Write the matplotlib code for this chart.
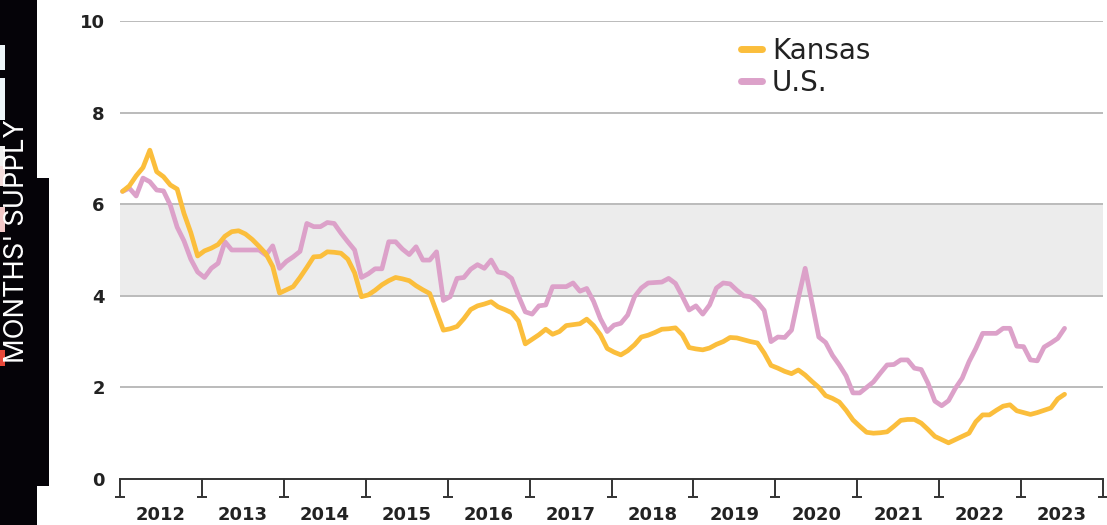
import matplotlib
matplotlib.use("Agg")
import matplotlib.pyplot as plt
import matplotlib.transforms as mtransforms
from matplotlib.patches import Rectangle
from matplotlib.lines import Line2D
import numpy as np

plt.rcParams['font.family'] = ['DejaVu Sans']

kansas = [6.28, 6.4, 6.62, 6.8, 7.18, 6.71, 6.6, 6.42, 6.33, 5.8, 5.38, 4.87,
          4.98, 5.04, 5.12, 5.3, 5.4, 5.42, 5.35, 5.23, 5.08, 4.92, 4.64, 4.06,
          4.13, 4.2, 4.4, 4.62, 4.85, 4.86, 4.96, 4.95, 4.93, 4.8, 4.5, 3.98,
          4.02, 4.12, 4.24, 4.33, 4.4, 4.37, 4.33, 4.22, 4.13, 4.05, 3.65, 3.25,
          3.28, 3.33, 3.5, 3.7, 3.78, 3.82, 3.87, 3.76, 3.7, 3.63, 3.45, 2.95,
          3.05, 3.15, 3.27, 3.16, 3.22, 3.35, 3.37, 3.39, 3.49, 3.35, 3.15, 2.85,
          2.77, 2.71, 2.8, 2.93, 3.1, 3.14, 3.2, 3.27, 3.28, 3.3, 3.15, 2.87,
          2.84, 2.82, 2.86, 2.94, 3.0, 3.09, 3.08, 3.04, 3.0, 2.97, 2.75, 2.48,
          2.42, 2.35, 2.3, 2.38, 2.27, 2.13, 2.0, 1.82, 1.76, 1.68, 1.5, 1.29,
          1.15, 1.02, 1.0, 1.01, 1.03, 1.15, 1.28, 1.3, 1.3, 1.22, 1.08, 0.93,
          0.86, 0.79, 0.86, 0.93, 1.0, 1.25, 1.4, 1.4, 1.5, 1.59, 1.62, 1.49,
          1.45, 1.41, 1.45, 1.5, 1.55, 1.75, 1.85]

us = [6.28, 6.35, 6.18, 6.57, 6.49, 6.31, 6.29, 5.98, 5.5, 5.2, 4.8, 4.52,
      4.4, 4.6, 4.71, 5.18, 5.0, 5.0, 5.0, 5.0, 5.0, 4.89, 5.09, 4.6,
      4.75, 4.85, 4.97, 5.58, 5.51, 5.51, 5.6, 5.58, 5.37, 5.18, 5.0, 4.4,
      4.48, 4.59, 4.59, 5.18, 5.18, 5.02, 4.9, 5.07, 4.78, 4.78, 4.96, 3.9,
      3.98, 4.38, 4.4, 4.58, 4.68, 4.6, 4.78, 4.52, 4.49, 4.38, 4.0, 3.65,
      3.6, 3.78, 3.8, 4.2, 4.2, 4.2, 4.28, 4.1, 4.16, 3.88, 3.5, 3.22,
      3.36, 3.4, 3.58, 3.98, 4.17, 4.28, 4.29, 4.3, 4.38, 4.27, 3.99, 3.69,
      3.78, 3.6, 3.8, 4.17, 4.28, 4.26, 4.12, 4.0, 3.98, 3.86, 3.68, 3.0,
      3.1, 3.09, 3.25, 3.95, 4.6, 3.85, 3.1, 2.98, 2.7, 2.49, 2.25, 1.88,
      1.88, 2.0, 2.12, 2.31, 2.49, 2.5, 2.6, 2.6, 2.42, 2.39, 2.09, 1.7,
      1.6, 1.71, 1.98, 2.2, 2.56, 2.85, 3.18, 3.18, 3.18, 3.29, 3.29, 2.9,
      2.89, 2.6, 2.58, 2.88, 2.97, 3.07, 3.29]

years = list(range(2012, 2024))
year_labels = [str(y) for y in years]
yticks = [0, 2, 4, 6, 8, 10]
series_names = ['Kansas', 'U.S.']

KS_COLOR = '#FBBE3C'
US_COLOR = '#DCA1C9'
TXT = '#222222'

W, H = 1107, 525
fig = plt.figure(figsize=(W / 100, H / 100), dpi=100)
ax = fig.add_axes([120 / W, 46 / H, 983 / W, 458 / H])

months = np.arange(len(kansas))
xs = 2012 + (months + 0.37) / 12.0

ax.set_xlim(2012, 2024)
ax.set_ylim(0, 10)

# shaded band and grid
ax.axhspan(4, 6, color='#ECECEC', zorder=0, lw=0)
for v in yticks[1:]:
    ax.axhline(v, color='#BBBBBB', lw=1.4, zorder=1)

ax.plot(xs, us, color=US_COLOR, lw=3.4, solid_capstyle='round', solid_joinstyle='round', zorder=3)
ax.plot(xs, kansas, color=KS_COLOR, lw=3.4, solid_capstyle='round', solid_joinstyle='round', zorder=4)

for s in ['top', 'right', 'left']:
    ax.spines[s].set_visible(False)
ax.spines['bottom'].set_color('#333333')
ax.spines['bottom'].set_linewidth(1.4)
ax.spines['bottom'].set_zorder(5)

ax.set_yticks(yticks)
ax.set_yticklabels([str(v) for v in yticks], fontsize=13, fontweight='bold', color=TXT)
ax.tick_params(axis='y', length=0, pad=11)

ax.set_xticks(list(range(2012, 2025)))
ax.set_xticklabels([])
ax.tick_params(axis='x', which='major', length=13, width=1.4, color='#333333', direction='out')
ax.set_xticks([y + 0.5 for y in years], minor=True)
ax.set_xticklabels(year_labels, minor=True, fontsize=13, fontweight='bold', color=TXT)
ax.tick_params(axis='x', which='minor', length=0, pad=19.5)

# tick caps
trans = mtransforms.blended_transform_factory(ax.transData, ax.transAxes)
cap_trans = mtransforms.offset_copy(trans, fig=fig, x=0, y=-18, units='dots')
ax.plot(list(range(2012, 2025)), [0] * 13, linestyle='none', marker='_', markersize=7,
        markeredgewidth=1.4, color='#333333', transform=cap_trans, clip_on=False, zorder=6)

# legend
handles = [Line2D([0], [0], color=KS_COLOR, lw=5, solid_capstyle='round'),
           Line2D([0], [0], color=US_COLOR, lw=5, solid_capstyle='round')]
leg = ax.legend(handles, series_names, loc='upper left', bbox_to_anchor=(0.632, 0.965),
                frameon=False, fontsize=20, handlelength=0.75, handletextpad=0.35,
                labelspacing=0.15, borderaxespad=0, borderpad=0)
for t in leg.get_texts():
    t.set_color(TXT)

# left decorative strip
def fig_rect(x0, y0, x1, y1, color):
    fig.add_artist(Rectangle((x0 / W, 1 - y1 / H), (x1 - x0) / W, (y1 - y0) / H,
                             transform=fig.transFigure, color=color, lw=0, zorder=0))

fig_rect(0, 0, 37, 525, '#050308')
fig_rect(0, 178, 49, 486, '#050308')
fig_rect(0, 45, 5, 70, '#EEF6F9')
fig_rect(0, 78, 5, 120, '#EEF6F9')
fig_rect(0, 146, 5, 166, '#F0F0F0')
fig_rect(0, 166, 5, 186, '#F3DCDC')
fig_rect(0, 207, 5, 232, '#F2C8C8')
fig_rect(0, 350, 5, 366, '#E8483A')
fig.text(17 / W, 1 - 241 / H, "MONTHS' SUPPLY", rotation=90, color='white',
         fontsize=19.7, ha='center', va='center', zorder=2,
         family=['Inter', 'DejaVu Sans'])

fig.savefig('out.png', dpi=100)
